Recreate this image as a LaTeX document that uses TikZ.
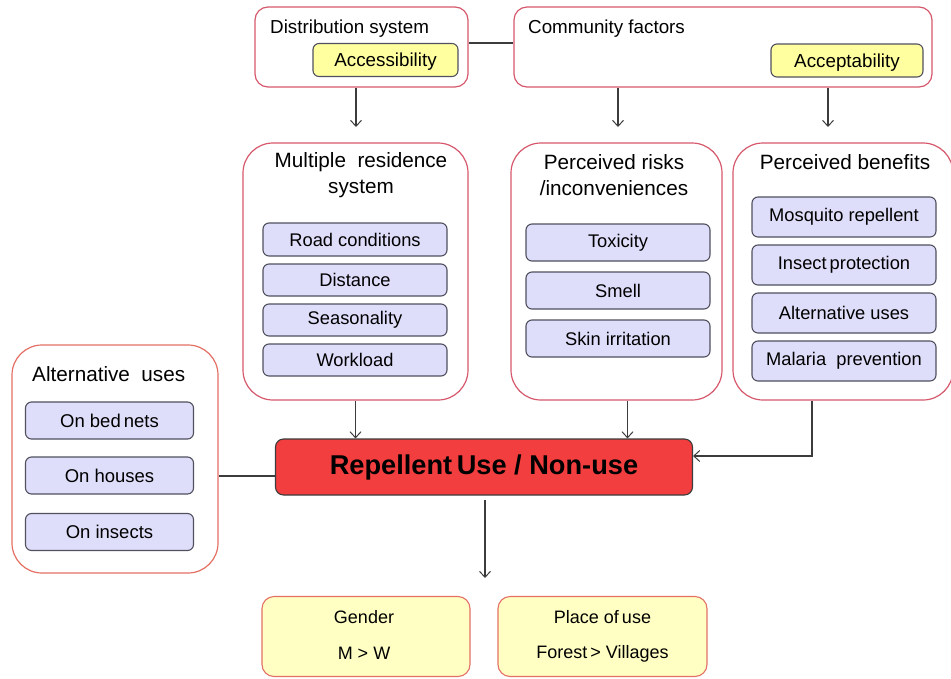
\documentclass[tikz,border=0pt]{standalone}
\usepackage{fontspec}
\setmainfont{Liberation Sans}
\usetikzlibrary{arrows.meta}
\definecolor{outline}{RGB}{214,88,108}
\definecolor{outline2}{RGB}{228,112,100}
\definecolor{lav}{RGB}{222,222,250}
\definecolor{yel}{RGB}{255,255,160}
\definecolor{paleyel}{RGB}{255,255,196}
\definecolor{redfill}{RGB}{242,62,62}
\definecolor{itemline}{RGB}{80,80,95}
\definecolor{conn}{RGB}{60,60,60}
\tikzset{
  outerbox/.style={draw=outline, line width=1.2pt, rounded corners=30pt, fill=white, inner sep=0pt},
  topbox/.style={draw=outline, line width=1.2pt, rounded corners=13pt, fill=white, inner sep=0pt},
  itembox/.style={draw=itemline, fill=lav, line width=1.1pt, rounded corners=6pt, inner sep=0pt,
    minimum width=184pt, font=\fontsize{18.3}{20}\selectfont},
  altitem/.style={itembox, minimum width=168pt, minimum height=37pt, font=\fontsize{18.5}{20}\selectfont},
  yelbox/.style={draw=itemline, fill=yel, line width=1.1pt, rounded corners=6pt, inner sep=0pt,
    minimum height=33pt, text height=13.5pt, text depth=0pt, font=\fontsize{18.8}{20}\selectfont},
  resultbox/.style={draw=outline2, fill=paleyel, line width=1.1pt, rounded corners=12pt, inner sep=0pt,
    minimum width=208pt, minimum height=80pt},
  toptitle/.style={anchor=west, inner sep=0pt, font=\fontsize{18.8}{20}\selectfont},
  title/.style={inner sep=0pt, align=center, font=\fontsize{20.7}{26}\selectfont},
  restext/.style={inner sep=0pt, font=\fontsize{18}{20}\selectfont},
  conline/.style={draw=conn, line width=1.1pt},
  arr/.style={conline, -{Straight Barb[length=6pt,width=11pt,line width=1pt]}}
}
\begin{document}
\begin{tikzpicture}[x=1pt,y=-1pt]
\useasboundingbox (0,0) rectangle (951,678);

% top row
\node[topbox, minimum width=213pt, minimum height=80pt] (dist) at (361.5,47) {};
\node[toptitle] (distT) at (270,29) {Distribution system};
\node[yelbox, minimum width=145pt] (access) at (385.5,60) {Accessibility};

\node[topbox, minimum width=418pt, minimum height=80pt] (comm) at (723,47) {};
\node[toptitle] (commT) at (528,29) {Community factors};
\node[yelbox, minimum width=152pt] (accept) at (847,60.5) {Acceptability};

\draw[conline] ([yshift=4pt]dist.east) -- ([yshift=4pt]comm.west);

\coordinate (e1) at (356,127);
\coordinate (e2) at (618,127);
\coordinate (e3) at (828,127);
\draw[arr] (dist.south -| e1) -- (e1);
\draw[arr] (comm.south -| e2) -- (e2);
\draw[arr] (comm.south -| e3) -- (e3);

% middle row
\node[outerbox, minimum width=225pt, minimum height=257pt] (mult) at (355.5,271.5) {};
\node[title] (multT) at (361,175) {Multiple \ residence\\system};
\node[itembox, minimum height=33pt] (road) at (355,239.5) {Road conditions};
\node[itembox, minimum height=32pt] (distance) at (355,280) {Distance};
\node[itembox, minimum height=32pt] (season) at (355,320) {Seasonality};
\node[itembox, minimum height=32pt] (work) at (355,360) {Workload};

\node[outerbox, minimum width=211pt, minimum height=257pt] (risk) at (616.5,271.5) {};
\node[title] (riskT) at (614,175) {Perceived risks\\/inconveniences};
\node[itembox, minimum height=37pt] (tox) at (618,242.5) {Toxicity};
\node[itembox, minimum height=37pt] (smell) at (618,290.5) {Smell};
\node[itembox, minimum height=37pt] (skin) at (618,338.5) {Skin irritation};

\node[outerbox, minimum width=220pt, minimum height=257pt] (ben) at (843,271.5) {};
\node[title] (benT) at (845,162) {Perceived benefits};
\node[itembox, minimum height=40pt] (mosq) at (844,217) {Mosquito repellent};
\node[itembox, minimum height=40pt] (insect) at (844,265) {Insect\,protection};
\node[itembox, minimum height=40pt] (altu) at (844,313) {Alternative uses};
\node[itembox, minimum height=40pt] (mal) at (844,361) {Malaria \ prevention};

% left box
\node[outerbox, draw=outline2, minimum width=206pt, minimum height=228pt] (alt) at (115,459) {};
\node[title, anchor=west] (altT) at (32,374) {Alternative \ uses};
\node[altitem] (bed) at (109.5,420.5) {On bed\,nets};
\node[altitem] (houses) at (109.5,475.5) {On houses};
\node[altitem] (insects) at (109.5,532) {On insects};

% central red box
\node[draw=conn, fill=redfill, line width=1.1pt, rounded corners=8pt, inner sep=0pt,
      minimum width=417pt, minimum height=56pt, font=\fontsize{27.2}{30}\selectfont\bfseries]
      (use) at (484,467) {Repellent\,Use / Non-use};

\draw[arr] (mult.south) -- (mult.south |- use.north);
\draw[arr] ([xshift=11pt]risk.south) -- ([xshift=11pt]risk.south |- use.north);
\draw[arr] ([xshift=-31pt]ben.south) |- ([yshift=11pt]use.east);
\draw[conline] ([yshift=-9pt]use.west) -- ([yshift=-9pt]use.west -| alt.east);

\coordinate (e4) at (485,578);
\draw[arr, shorten <=4pt] (use.south -| e4) -- (e4);

% bottom
\node[resultbox] (gender) at (366,636.5) {};
\node[restext] (genderT) at (364,617) {Gender};
\node[restext] (genderV) at (364,653.5) {M > W};

\node[resultbox, minimum width=209pt] (place) at (602.5,636.5) {};
\node[restext] (placeT) at (602.5,617) {Place of\,use};
\node[restext] (placeV) at (602.5,653.5) {Forest\,> Villages};
\end{tikzpicture}
\end{document}
